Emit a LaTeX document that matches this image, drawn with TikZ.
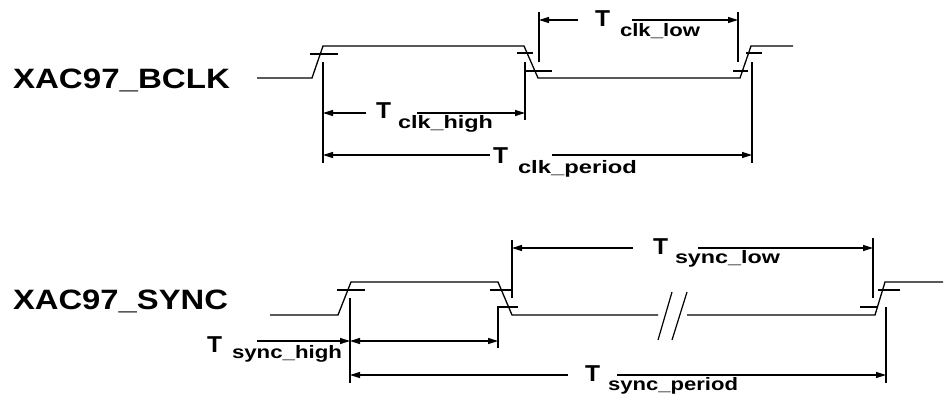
\documentclass[tikz,border=0pt]{standalone}
\usepackage{fontspec}
\setmainfont{Liberation Sans}
\usepackage{graphicx}
\usetikzlibrary{arrows.meta}
\newcommand\subw[2]{\resizebox{#1pt}{\height}{\fontsize{18}{18}\selectfont\bfseries #2}}
\newcommand\bigT{\resizebox{15pt}{\height}{\fontsize{23}{23}\selectfont\bfseries T}}
\newcommand\sigw[2]{\resizebox{#1pt}{\height}{\fontsize{28}{28}\selectfont\bfseries #2}}
\begin{document}
\begin{tikzpicture}[x=1pt,y=-1pt,
  wave/.style={line width=1.3pt,line join=miter},
  tick/.style={line width=1.2pt},
  dim/.style={line width=1.2pt},
  la/.style={dim,{Triangle[length=10pt,width=6pt]}-},
  ra/.style={dim,-{Triangle[length=10pt,width=6pt]}},
  ba/.style={dim,{Triangle[length=10pt,width=6pt]}-{Triangle[length=10pt,width=6pt]}},
  lbl/.style={inner sep=0pt,outer sep=0pt,anchor=base west}]
\useasboundingbox (0,0) rectangle (944,396);

% signal names
\node[lbl] (bclk) at (13,88) {\sigw{217}{XAC97\_BCLK}};
\node[lbl] (sync) at (13,309) {\sigw{215}{XAC97\_SYNC}};

% ---------- BCLK waveform ----------
\draw[wave] (257,78) -- (312,78) -- (323,46) -- (524,46) -- (538,78) -- (740,78) -- (751,46) -- (793,46);
% threshold ticks
\draw[tick] (310,54) -- (338,54);
\draw[tick] (517,53) -- (533,53);
\draw[tick] (525,71) -- (552,71);
\draw[tick] (733,71) -- (748,71);
\draw[tick] (746,53) -- (762,53);
% extension lines
\coordinate (v1t) at (323,62); \coordinate (v1b) at (323,163);
\coordinate (v2t) at (525,62); \coordinate (v2b) at (525,120);
\coordinate (v3t) at (539,12); \coordinate (v3b) at (539,62);
\coordinate (v4t) at (738,12); \coordinate (v4b) at (738,62);
\coordinate (v5t) at (752,62); \coordinate (v5b) at (752,163);
\draw[dim] (v1t) -- (v1b);
\draw[dim] (v2t) -- (v2b);
\draw[dim] (v3t) -- (v3b);
\draw[dim] (v4t) -- (v4b);
\draw[dim] (v5t) -- (v5b);
% T_clk_high
\coordinate (h1) at (323,113); \coordinate (h2) at (525,113);
\coordinate (hg1) at (366,113); \coordinate (hg2) at (417,113);
\draw[la] (h1) -- (hg1);
\draw[ra] (hg2) -- (h2);
\node[lbl] (tch) at (376,118) {\bigT};
\node[lbl] (tchs) at (398,128) {\subw{95}{clk\_high}};
% T_clk_period
\coordinate (p1) at (323,155); \coordinate (p2) at (752,155);
\coordinate (pg1) at (490,155); \coordinate (pg2) at (552,155);
\draw[la] (p1) -- (pg1);
\draw[ra] (pg2) -- (p2);
\node[lbl] (tcp) at (493,163) {\bigT};
\node[lbl] (tcps) at (518,173) {\subw{119}{clk\_period}};
% T_clk_low
\coordinate (l1) at (539,20); \coordinate (l2) at (738,20);
\coordinate (lg1) at (578,20); \coordinate (lg2) at (632,20);
\draw[la] (l1) -- (lg1);
\draw[ra] (lg2) -- (l2);
\node[lbl] (tcl) at (595,27) {\bigT};
\node[lbl] (tcls) at (620,37) {\subw{80}{clk\_low}};

% ---------- SYNC waveform ----------
\draw[wave] (270,315) -- (338,315) -- (351,282) -- (498,282) -- (512,315) -- (658,315);
\draw[wave] (687,315) -- (875,315) -- (885,282) -- (943,282);
% break marks
\draw[tick] (658,340) -- (672,292);
\draw[tick] (672,340) -- (687,292);
% threshold ticks
\draw[tick] (337,290) -- (365,290);
\draw[tick] (490,290) -- (512,290);
\draw[tick] (497,307) -- (518,307);
\draw[tick] (860,307) -- (877,307);
\draw[tick] (878,290) -- (900,290);
% extension lines
\coordinate (s1t) at (350,298); \coordinate (s1b) at (350,383);
\coordinate (s2t) at (498,308); \coordinate (s2b) at (498,348);
\coordinate (s3t) at (512,240); \coordinate (s3b) at (512,298);
\coordinate (s4t) at (873,238); \coordinate (s4b) at (873,298);
\coordinate (s5t) at (886,307); \coordinate (s5b) at (886,383);
\draw[dim] (s1t) -- (s1b);
\draw[dim] (s2t) -- (s2b);
\draw[dim] (s3t) -- (s3b);
\draw[dim] (s4t) -- (s4b);
\draw[dim] (s5t) -- (s5b);
% T_sync_high
\coordinate (sh0) at (257,341); \coordinate (sh1) at (350,341); \coordinate (sh2) at (498,341);
\draw[ra] (sh0) -- (sh1);
\draw[ba] (sh1) -- (sh2);
\node[lbl] (tsh) at (207,352) {\bigT};
\node[lbl] (tshs) at (232,358) {\subw{110}{sync\_high}};
% T_sync_low
\coordinate (sl1) at (512,248); \coordinate (sl2) at (873,248);
\coordinate (slg1) at (633,248); \coordinate (slg2) at (698,248);
\draw[la] (sl1) -- (slg1);
\draw[ra] (slg2) -- (sl2);
\node[lbl] (tsl) at (653,254) {\bigT};
\node[lbl] (tsls) at (675,263) {\subw{105}{sync\_low}};
% T_sync_period
\coordinate (sp1) at (350,375); \coordinate (sp2) at (886,375);
\coordinate (spg1) at (568,375); \coordinate (spg2) at (617,375);
\draw[la] (sp1) -- (spg1);
\draw[ra] (spg2) -- (sp2);
\node[lbl] (tsp) at (585,381) {\bigT};
\node[lbl] (tsps) at (608,390) {\subw{130}{sync\_period}};
\end{tikzpicture}
\end{document}
